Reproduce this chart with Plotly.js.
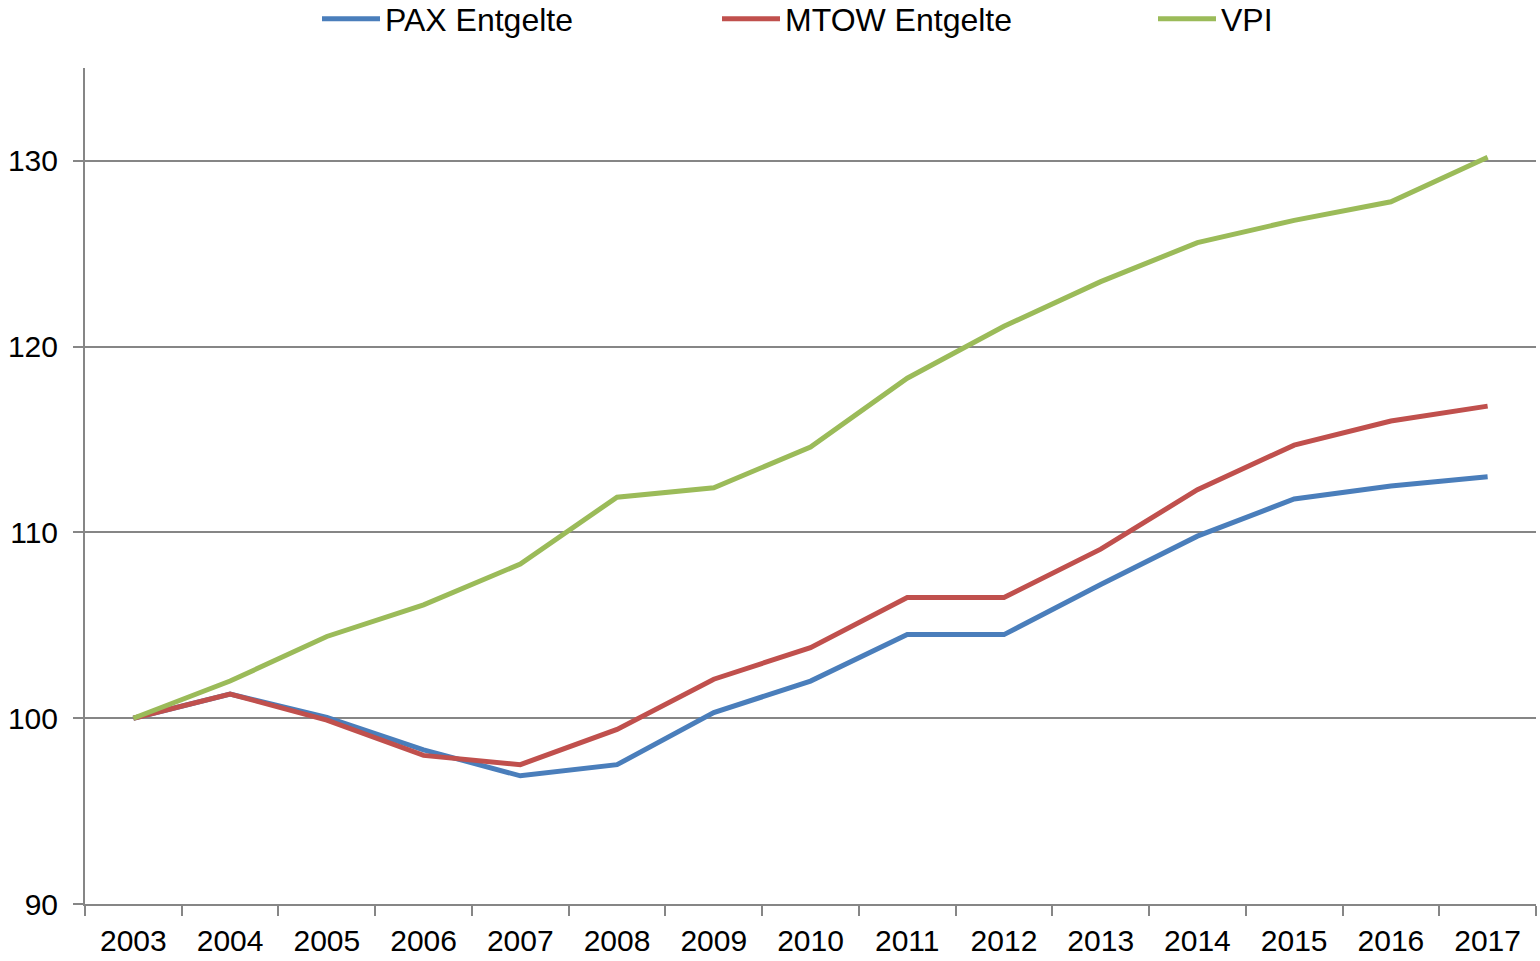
<!DOCTYPE html>
<html>
<head>
<meta charset="utf-8">
<script src="https://cdn.plot.ly/plotly-3.0.1.min.js"></script>
<style>
  body { margin: 0; background: #fff; }
  #chart { width: 1540px; height: 961px; }
</style>
</head>
<body>
<div id="chart"></div>
<script>
var years = ["2003", "2004", "2005", "2006", "2007", "2008", "2009", "2010",
             "2011", "2012", "2013", "2014", "2015", "2016", "2017"];
var pax = [100, 101.3, 100.05, 98.3, 96.9, 97.5, 100.3, 102.0, 104.5, 104.5, 107.2, 109.8, 111.8, 112.5, 113.0];
var mtow = [100, 101.3, 99.9, 98.0, 97.5, 99.4, 102.1, 103.8, 106.5, 106.5, 109.1, 112.3, 114.7, 116.0, 116.8];
var vpi = [100, 102.0, 104.4, 106.1, 108.3, 111.9, 112.4, 114.6, 118.3, 121.1, 123.5, 125.6, 126.8, 127.8, 130.2];

var fnt = "Liberation Sans, Arial, sans-serif";

function trace(y, name, color, leg) {
  return {
    x: years,
    y: y,
    name: name,
    mode: "lines",
    line: {color: color, width: 5},
    legend: leg,
    type: "scatter"
  };
}

var data = [
  trace(pax, "PAX Entgelte", "#4a7ebb", "legend"),
  trace(mtow, "MTOW Entgelte", "#c0504d", "legend2"),
  trace(vpi, "VPI", "#9bbb59", "legend3")
];

function leg(px) {
  return {
    x: (px - 85) / 1451,
    xanchor: "left",
    y: 1 + (68 - 19) / 836,
    yanchor: "middle",
    orientation: "h",
    itemwidth: 58,
    font: {family: fnt, size: 32, color: "#000"},
    bgcolor: "rgba(0,0,0,0)"
  };
}

var layout = {
  width: 1540,
  height: 961,
  margin: {l: 85, r: 4, t: 68, b: 57, autoexpand: false},
  paper_bgcolor: "#fff",
  plot_bgcolor: "#fff",
  font: {family: fnt, size: 30, color: "#000"},
  showlegend: true,
  legend: leg(317),
  legend2: leg(717),
  legend3: leg(1153),
  xaxis: {
    type: "category",
    range: [-0.5, 14.5],
    tickson: "boundaries",
    ticks: "outside",
    ticklen: 10,
    tickwidth: 2,
    tickcolor: "#868686",
    showline: true,
    linecolor: "#868686",
    linewidth: 2,
    showgrid: false,
    zeroline: false,
    ticklabelstandoff: 9,
    tickfont: {family: fnt, size: 30, color: "#000"}
  },
  yaxis: {
    range: [90, 135],
    tickvals: [90, 100, 110, 120, 130],
    ticks: "outside",
    ticklen: 10,
    tickwidth: 2,
    tickcolor: "#868686",
    showline: true,
    linecolor: "#868686",
    linewidth: 2,
    showgrid: true,
    gridcolor: "#868686",
    gridwidth: 2,
    zeroline: false,
    ticklabelstandoff: 9,
    tickfont: {family: fnt, size: 30, color: "#000"}
  }
};

Plotly.newPlot("chart", data, layout, {displayModeBar: false, staticPlot: true});
</script>
</body>
</html>
